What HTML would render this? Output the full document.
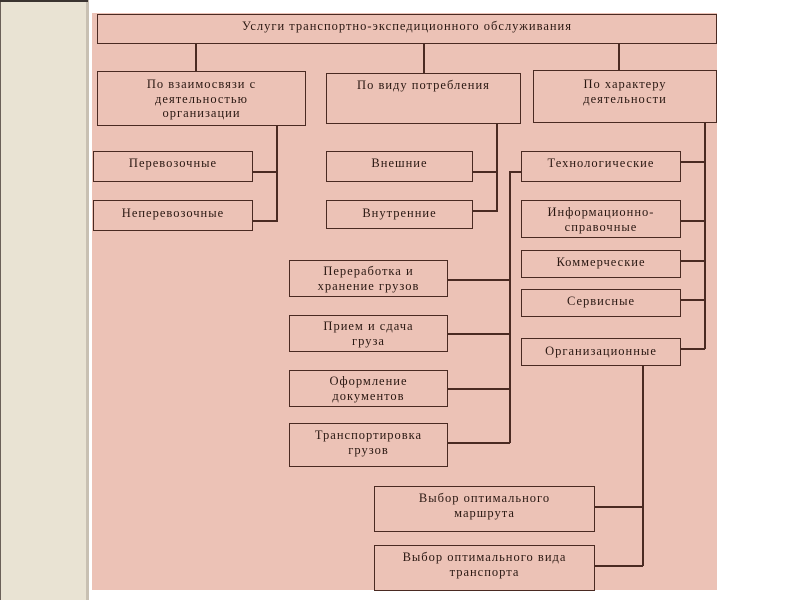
<!DOCTYPE html>
<html><head><meta charset="utf-8"><style>
body{margin:0;width:800px;height:600px;background:#fff;position:relative;overflow:hidden;font-family:"Liberation Serif",serif;}
.strip{position:absolute;left:0;top:0;width:85px;height:600px;background:#e9e3d3;border-left:1px solid #6a6058;}
.strip2{position:absolute;left:86px;top:0;width:3px;height:600px;background:#c8c0b2;}
.topline{position:absolute;left:0;top:0;width:88px;height:2px;background:#3a3430;}
.panel{position:absolute;left:92px;top:13px;width:625px;height:577px;background:#ecc2b6;}
.b{position:absolute;box-sizing:border-box;border:1.5px solid #4a2a22;color:#2a1812;font-size:12.5px;letter-spacing:1px;text-align:center;line-height:14.5px;}
.l{position:absolute;background:#4a2a22;}
</style></head><body>
<div class="strip"></div><div class="strip2"></div><div class="topline"></div>
<div class="panel"></div>

<div class="b" style="left:97px;top:14px;width:620px;height:30px;padding-top:4px">Услуги транспортно-экспедиционного обслуживания</div>
<div class="l" style="left:195px;top:43px;width:1.5px;height:28px"></div>
<div class="l" style="left:423px;top:43px;width:1.5px;height:30px"></div>
<div class="l" style="left:618px;top:43px;width:1.5px;height:27px"></div>

<div class="b" style="left:97px;top:71px;width:209px;height:55px;padding-top:5px">По взаимосвязи с<br>деятельностью<br>организации</div>
<div class="b" style="left:326px;top:73px;width:195px;height:51px;padding-top:4px">По виду потребления</div>
<div class="b" style="left:533px;top:70px;width:184px;height:53px;padding-top:6px">По характеру<br>деятельности</div>

<div class="l" style="left:276px;top:125px;width:1.5px;height:97px"></div>
<div class="b" style="left:93px;top:151px;width:160px;height:31px;padding-top:4px">Перевозочные</div>
<div class="l" style="left:252px;top:171px;width:25px;height:1.5px"></div>
<div class="b" style="left:93px;top:200px;width:160px;height:31px;padding-top:5px">Неперевозочные</div>
<div class="l" style="left:252px;top:220px;width:25px;height:1.5px"></div>

<div class="l" style="left:496px;top:123px;width:1.5px;height:89px"></div>
<div class="b" style="left:326px;top:151px;width:147px;height:31px;padding-top:4px">Внешние</div>
<div class="l" style="left:472px;top:171px;width:25px;height:1.5px"></div>
<div class="b" style="left:326px;top:200px;width:147px;height:29px;padding-top:5px">Внутренние</div>
<div class="l" style="left:472px;top:210px;width:25px;height:2px"></div>

<div class="l" style="left:704px;top:122px;width:1.5px;height:227px"></div>
<div class="b" style="left:521px;top:151px;width:160px;height:31px;padding-top:4px">Технологические</div>
<div class="l" style="left:680px;top:161px;width:25px;height:1.5px"></div>
<div class="b" style="left:521px;top:200px;width:160px;height:38px;padding-top:4px">Информационно-<br>справочные</div>
<div class="l" style="left:680px;top:220px;width:25px;height:1.5px"></div>
<div class="b" style="left:521px;top:250px;width:160px;height:28px;padding-top:4px">Коммерческие</div>
<div class="l" style="left:680px;top:260px;width:25px;height:1.5px"></div>
<div class="b" style="left:521px;top:289px;width:160px;height:28px;padding-top:4px">Сервисные</div>
<div class="l" style="left:680px;top:299px;width:25px;height:1.5px"></div>
<div class="b" style="left:521px;top:338px;width:160px;height:28px;padding-top:5px">Организационные</div>
<div class="l" style="left:680px;top:348px;width:25px;height:1.5px"></div>

<div class="l" style="left:509px;top:171px;width:1.5px;height:272px"></div>
<div class="l" style="left:509px;top:171px;width:12px;height:1.5px"></div>
<div class="b" style="left:289px;top:260px;width:159px;height:37px;padding-top:3px">Переработка и<br>хранение грузов</div>
<div class="l" style="left:447px;top:279px;width:63px;height:1.5px"></div>
<div class="b" style="left:289px;top:315px;width:159px;height:37px;padding-top:3px">Прием и сдача<br>груза</div>
<div class="l" style="left:447px;top:333px;width:63px;height:1.5px"></div>
<div class="b" style="left:289px;top:370px;width:159px;height:37px;padding-top:3px">Оформление<br>документов</div>
<div class="l" style="left:447px;top:388px;width:63px;height:1.5px"></div>
<div class="b" style="left:289px;top:423px;width:159px;height:44px;padding-top:4px">Транспортировка<br>грузов</div>
<div class="l" style="left:447px;top:442px;width:63px;height:1.5px"></div>

<div class="l" style="left:642px;top:366px;width:1.5px;height:200px"></div>
<div class="b" style="left:374px;top:486px;width:221px;height:46px;padding-top:4px">Выбор оптимального<br>маршрута</div>
<div class="l" style="left:594px;top:506px;width:49px;height:1.5px"></div>
<div class="b" style="left:374px;top:545px;width:221px;height:46px;padding-top:4px">Выбор оптимального вида<br>транспорта</div>
<div class="l" style="left:594px;top:565px;width:49px;height:1.5px"></div>
</body></html>
